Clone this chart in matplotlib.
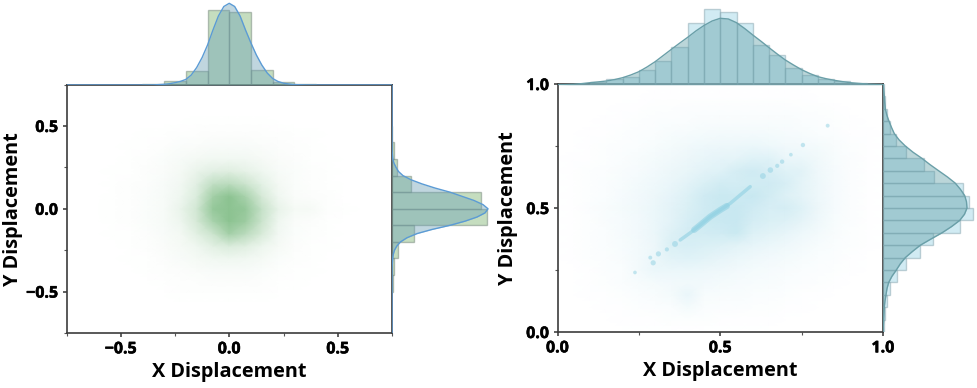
import numpy as np
import matplotlib
matplotlib.use("Agg")
import matplotlib.pyplot as plt
from matplotlib.colors import LinearSegmentedColormap
from matplotlib.ticker import MultipleLocator
import matplotlib.patheffects as pe

plt.rcParams['font.family'] = ['Open Sans', 'DejaVu Sans']
plt.rcParams['font.weight'] = 'bold'

# left panel, histograms (heights)
l_top_bins = [-0.4, -0.3, -0.2, -0.1, 0.0, 0.1, 0.2, 0.3]
l_top_hist = [0.8, 3.7, 14, 74.7, 73.3, 15.3, 3, 0.8]
l_kde_x = [-0.75, -0.4, -0.35, -0.3, -0.275, -0.25, -0.225, -0.2, -0.175, -0.15, -0.125, -0.1, -0.075, -0.05, -0.025,
           0.0, 0.025, 0.05, 0.075, 0.1, 0.125, 0.15, 0.175, 0.2, 0.225, 0.25, 0.275, 0.3, 0.35, 0.4, 0.75]
l_kde_top = [0, 0, 0.1, 0.7, 1.3, 2.3, 3.6, 5.6, 10, 17.5, 27.5, 40, 55, 69, 78.5,
             81.7, 78.5, 69, 55, 42, 30, 20, 12, 6.5, 3.5, 1.8, 1, 0.4, 0.1, 0, 0]

l_side_bins = [-0.5, -0.4, -0.3, -0.2, -0.1, 0.0, 0.1, 0.2, 0.3, 0.4]
l_side_hist = [0.5, 2, 6, 21.7, 95, 89, 19.3, 5, 1.7, 0.3]
l_kde_side = [0, 0, 0.1, 0.7, 1.3, 2.5, 4.8, 8.5, 15, 25, 40, 58, 73, 85, 93,
              96, 91, 82, 70, 58, 43, 30, 19, 11, 6.5, 4, 2, 0.8, 0.1, 0, 0]

# left panel, point cloud density on a 0.075 grid, % of full colour, top row first
l_grid = [-0.6, -0.525, -0.45, -0.375, -0.3, -0.225, -0.15, -0.075, 0.0, 0.075, 0.15, 0.225, 0.3, 0.375, 0.45, 0.525, 0.6]
l_cloud = [
    [0, 0, 0, 0, 0, 0, 0, 0, 0, 0, 0, 0, 0, 0, 0, 0, 0],
    [0, 0, 0, 0, 0, 0, 1, 1, 1, 1, 1, 0, 0, 0, 0, 0, 0],
    [0, 0, 0, 1, 1, 2, 2, 3, 3, 3, 2, 2, 1, 1, 0, 0, 0],
    [0, 0, 1, 1, 2, 4, 5, 6, 6, 6, 5, 3, 2, 1, 0, 0, 0],
    [0, 0, 1, 2, 4, 7, 10, 12, 12, 11, 8, 5, 3, 1, 1, 0, 0],
    [0, 1, 1, 3, 5, 9, 18, 26, 28, 22, 14, 7, 4, 2, 1, 0, 0],
    [0, 1, 2, 3, 6, 11, 26, 55, 60, 45, 24, 10, 4, 2, 1, 0, 0],
    [0, 1, 2, 4, 7, 14, 32, 80, 100, 75, 36, 13, 5, 3, 2, 0, 0],
    [1, 1, 2, 4, 7, 18, 40, 92, 100, 92, 50, 20, 9, 8, 2, 1, 0],
    [0, 1, 2, 4, 7, 15, 36, 75, 100, 85, 45, 14, 5, 3, 1, 0, 0],
    [0, 1, 1, 3, 6, 10, 25, 45, 80, 60, 34, 11, 4, 2, 1, 0, 0],
    [0, 0, 1, 2, 5, 8, 14, 25, 32, 27, 16, 8, 3, 1, 1, 0, 0],
    [0, 0, 1, 1, 3, 6, 9, 12, 14, 12, 9, 4, 2, 1, 0, 0, 0],
    [0, 0, 0, 1, 2, 3, 5, 6, 6, 6, 4, 2, 1, 1, 0, 0, 0],
    [0, 0, 0, 0, 1, 2, 2, 3, 3, 3, 2, 1, 1, 0, 0, 0, 0],
    [0, 0, 0, 0, 0, 1, 1, 1, 1, 1, 1, 0, 0, 0, 0, 0, 0],
    [0, 0, 0, 0, 0, 0, 0, 0, 0, 0, 0, 0, 0, 0, 0, 0, 0],
]

# right panel, histograms
r_bins = [0.0, 0.05, 0.1, 0.15, 0.2, 0.25, 0.3, 0.35, 0.4, 0.45, 0.5, 0.55, 0.6, 0.65, 0.7, 0.75, 0.8, 0.85, 0.9, 0.95]
r_top_hist = [0.3, 1.3, 3.3, 5.7, 7.7, 14.7, 24, 37.7, 62, 75.7, 73.3, 61.7, 39.7, 29.7, 17.3, 9.7, 6.3, 3.7, 2, 1]
r_side_hist = [0.7, 1.7, 4, 6.7, 14, 23, 37, 50, 77, 90.3, 85.7, 79.7, 50.7, 40.7, 23, 13.3, 7.3, 4, 2, 0.7]
r_kde_x = [0.0, 0.025, 0.05, 0.075, 0.1, 0.125, 0.15, 0.175, 0.2, 0.225, 0.25, 0.275, 0.3, 0.325, 0.35, 0.375, 0.4, 0.425, 0.45, 0.475,
           0.5, 0.525, 0.55, 0.575, 0.6, 0.625, 0.65, 0.675, 0.7, 0.725, 0.75, 0.775, 0.8, 0.825, 0.85, 0.875, 0.9, 0.925, 0.95, 0.975, 1.0]
r_kde_top = [0.2, 0.4, 0.7, 1.4, 2.3, 3.1, 4, 5.4, 7.3, 10, 13.3, 18, 23.3, 29.5, 35.7, 41.8, 47.7, 54, 59.5, 64,
             66.7, 66, 62.3, 56.5, 50, 43.8, 37.3, 31, 25, 20, 15.3, 11.5, 8.3, 6.3, 4.7, 3.4, 2.3, 1.6, 1, 0.6, 0.3]
r_kde_side = [0, 0.3, 0.7, 1, 1.3, 2, 3, 4, 5.7, 9, 13.3, 17.3, 22.3, 29.5, 37.3, 48, 59, 68.5, 76.7, 81.5,
              84, 83.5, 81.7, 77.5, 72.3, 64.5, 55.7, 47, 39, 30, 22.3, 16, 11.3, 8.5, 6, 3.8, 2.3, 1.7, 1.3, 0.7, 0.3]

# right panel, faint cloud on a 0.05 grid, % of full colour, top row first
r_grid = [0.0, 0.05, 0.1, 0.15, 0.2, 0.25, 0.3, 0.35, 0.4, 0.45, 0.5, 0.55, 0.6, 0.65, 0.7, 0.75, 0.8, 0.85, 0.9, 0.95, 1.0]
r_cloud = [
    [0, 0, 0, 0, 0, 0, 0, 0, 0, 0, 0, 0, 0, 0, 0, 0, 0, 0, 0, 0, 0],
    [0, 0, 0, 0, 0, 0, 1, 1, 1, 1, 1, 1, 1, 1, 1, 1, 0, 0, 0, 0, 0],
    [0, 0, 0, 0, 1, 1, 2, 2, 3, 3, 3, 3, 3, 3, 3, 2, 2, 1, 0, 0, 0],
    [0, 0, 0, 1, 1, 2, 3, 4, 4, 5, 5, 5, 5, 5, 5, 4, 3, 2, 1, 0, 0],
    [0, 0, 1, 1, 2, 3, 4, 6, 7, 8, 9, 9, 9, 8, 7, 6, 4, 3, 1, 1, 0],
    [0, 0, 1, 2, 3, 4, 6, 8, 11, 13, 14, 14, 15, 13, 11, 9, 8, 5, 2, 1, 0],
    [0, 1, 1, 2, 4, 6, 8, 11, 14, 17, 19, 20, 24, 24, 16, 15, 11, 6, 3, 1, 0],
    [0, 1, 2, 3, 5, 7, 10, 14, 17, 21, 24, 32, 36, 30, 24, 22, 12, 7, 3, 1, 0],
    [0, 1, 2, 4, 6, 9, 12, 16, 21, 28, 34, 33, 35, 36, 30, 20, 13, 7, 3, 1, 0],
    [0, 1, 2, 4, 7, 10, 14, 19, 26, 36, 40, 38, 42, 34, 26, 20, 13, 7, 3, 1, 0],
    [0, 1, 3, 5, 8, 11, 15, 21, 28, 36, 40, 42, 36, 30, 32, 24, 14, 7, 3, 1, 0],
    [0, 1, 2, 5, 7, 10, 15, 21, 30, 38, 40, 42, 32, 28, 26, 20, 12, 6, 3, 1, 0],
    [0, 1, 2, 4, 7, 10, 15, 25, 33, 34, 36, 40, 26, 22, 18, 13, 9, 5, 2, 1, 0],
    [0, 1, 2, 4, 6, 9, 14, 28, 30, 28, 26, 22, 18, 15, 12, 9, 6, 4, 2, 1, 0],
    [0, 1, 2, 3, 5, 9, 15, 22, 24, 22, 18, 15, 12, 10, 8, 6, 4, 3, 1, 0, 0],
    [0, 0, 1, 3, 4, 9, 15, 15, 15, 14, 12, 10, 8, 7, 5, 4, 3, 2, 1, 0, 0],
    [0, 0, 1, 2, 4, 6, 8, 10, 11, 10, 8, 7, 6, 5, 4, 3, 2, 1, 0, 0, 0],
    [0, 0, 1, 1, 2, 4, 5, 8, 16, 6, 5, 5, 4, 3, 2, 1, 1, 0, 0, 0, 0],
    [0, 0, 0, 1, 1, 2, 3, 4, 8, 4, 3, 3, 2, 2, 1, 1, 0, 0, 0, 0, 0],
    [0, 0, 0, 0, 1, 1, 1, 2, 2, 2, 1, 1, 1, 1, 0, 0, 0, 0, 0, 0, 0],
    [0, 0, 0, 0, 0, 0, 0, 0, 0, 0, 0, 0, 0, 0, 0, 0, 0, 0, 0, 0, 0],
]

# the bright diagonal streak: long thin part, thick middle, then separate spots
streak_line_x = [0.377, 0.408, 0.438, 0.469, 0.5, 0.531, 0.561, 0.592]
streak_line_y = [0.371, 0.40, 0.431, 0.465, 0.492, 0.519, 0.552, 0.586]
core_x = [0.42, 0.438, 0.469, 0.5, 0.52]
core_y = [0.412, 0.431, 0.465, 0.492, 0.508]
spot_x = [0.238, 0.285, 0.294, 0.31, 0.336, 0.361, 0.631, 0.654, 0.675, 0.69, 0.717, 0.754, 0.83]
spot_y = [0.24, 0.30, 0.279, 0.315, 0.333, 0.355, 0.629, 0.653, 0.67, 0.687, 0.715, 0.754, 0.832]
spot_s = [7, 8, 14, 14, 9, 18, 18, 16, 9, 10, 7, 10, 8]

W, H = 977, 388


def px_axes(x0, y0, x1, y1):
    return fig.add_axes([x0 / W, 1 - y1 / H, (x1 - x0) / W, (y1 - y0) / H])


def main_panel(ax, lim, ticks, minor, ylab_x):
    ax.set_xlim(lim)
    ax.set_ylim(lim)
    ax.set_xticks(ticks)
    ax.set_yticks(ticks)
    ax.xaxis.set_minor_locator(MultipleLocator(minor))
    ax.yaxis.set_minor_locator(MultipleLocator(minor))
    ax.tick_params(which='major', length=3, width=1.1, color='#333333', labelsize=11.5, pad=3)
    ax.tick_params(which='minor', length=2, width=0.8, color='#555555')
    for s in ax.spines.values():
        s.set_linewidth(1.2)
        s.set_color('#3c3c3c')
    for lab in ax.get_xticklabels() + ax.get_yticklabels():
        lab.set_path_effects([pe.withStroke(linewidth=0.4, foreground='black')])
    ax.set_xlabel('X Displacement', fontsize=14.3, fontweight='bold', va='center')
    ax.set_ylabel('Y Displacement', fontsize=14.3, fontweight='bold', va='center')
    ax.xaxis.set_label_coords(0.5, -0.157)
    ax.yaxis.set_label_coords(ylab_x, 0.5)


fig = plt.figure(figsize=(W / 100, H / 100), dpi=100)

# left
green = LinearSegmentedColormap.from_list('g', ['#ffffff', '#8cc391'])
ax1 = px_axes(66.5, 84.5, 392, 333)
ax1.pcolormesh(l_grid, l_grid, np.array(l_cloud)[::-1], shading='gouraud', cmap=green, vmin=0, vmax=100)
main_panel(ax1, (-0.75, 0.75), [-0.5, 0.0, 0.5], 0.25, -0.164)

t1 = px_axes(66.5, 0, 392, 85)
t1.bar(l_top_bins, l_top_hist, width=0.1, align='edge', color='#8cbd80', alpha=0.5, edgecolor='#74857a', linewidth=1)
t1.fill_between(l_kde_x, l_kde_top, color='#6a9fb5', alpha=0.42, lw=0)
t1.plot(l_kde_x, l_kde_top, color='#5b9bd5', lw=1)
t1.set_xlim(-0.75, 0.75)
t1.set_ylim(0, 85)
t1.axis('off')

s1 = px_axes(392, 84.5, 490, 333)
s1.barh(l_side_bins, l_side_hist, height=0.1, align='edge', color='#8cbd80', alpha=0.5, edgecolor='#74857a', linewidth=1)
s1.fill_betweenx(l_kde_x, l_kde_side, color='#6a9fb5', alpha=0.42, lw=0)
s1.plot(l_kde_side, l_kde_x, color='#5b9bd5', lw=1)
s1.set_ylim(-0.75, 0.75)
s1.set_xlim(0, 98)
s1.axis('off')

# right
blue = LinearSegmentedColormap.from_list('b', ['#ffffff', '#8fd0e2'])
ax2 = px_axes(557.5, 84, 883, 332)
ax2.pcolormesh(r_grid, r_grid, np.array(r_cloud)[::-1], shading='gouraud', cmap=blue, vmin=0, vmax=85)
ax2.plot(streak_line_x, streak_line_y, color='#8fd0e2', lw=2.5, alpha=0.6, solid_capstyle='round')
ax2.plot(core_x, core_y, color='#8fd0e2', lw=4.5, alpha=0.6, solid_capstyle='round')
ax2.scatter(spot_x, spot_y, s=spot_s, color='#8fd0e2', alpha=0.5, linewidths=0)
main_panel(ax2, (0.0, 1.0), [0.0, 0.5, 1.0], 0.25, -0.152)

t2 = px_axes(557.5, 0, 883, 85)
t2.bar(r_bins, r_top_hist, width=0.05, align='edge', color='#a5d8e8', alpha=0.5, edgecolor='#88a5ae', linewidth=1)
t2.fill_between(r_kde_x, r_kde_top, color='#5f9ea6', alpha=0.42, lw=0)
t2.plot(r_kde_x, r_kde_top, color='#6a9fa8', lw=1)
t2.set_xlim(0, 1)
t2.set_ylim(0, 85)
t2.axis('off')

s2 = px_axes(883, 84, 977, 332)
s2.barh(r_bins, r_side_hist, height=0.05, align='edge', color='#a5d8e8', alpha=0.5, edgecolor='#88a5ae', linewidth=1)
s2.fill_betweenx(r_kde_x, r_kde_side, color='#5f9ea6', alpha=0.42, lw=0)
s2.plot(r_kde_side, r_kde_x, color='#6a9fa8', lw=1)
s2.set_ylim(0, 1)
s2.set_xlim(0, 94)
s2.axis('off')

fig.savefig('out.png', dpi=100)
